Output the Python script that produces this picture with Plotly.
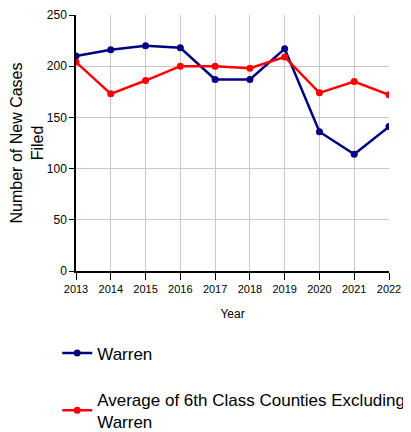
import plotly.graph_objects as go

years = [2013, 2014, 2015, 2016, 2017, 2018, 2019, 2020, 2021, 2022]
warren = [210, 216, 220, 218, 187, 187, 217, 136, 114, 141]
average = [204, 173, 186, 200, 200, 198, 209, 174, 185, 172]
y_ticks = [0, 50, 100, 150, 200, 250]

font_family = "Liberation Sans, Arial, sans-serif"

fig = go.Figure()
fig.add_trace(go.Scatter(
    x=years, y=warren, mode="lines+markers", name="Warren", legendgroup="a",
    line=dict(color="#000080", width=2.5), marker=dict(size=7, color="#000080"),
))
fig.add_trace(go.Scatter(
    x=years, y=average, mode="lines+markers", legendgroup="b",
    name="Average of 6th Class Counties Excluding<br>Warren",
    line=dict(color="#ff0000", width=2.5), marker=dict(size=7, color="#ff0000"),
))

# page body has an 8px default margin, so the figure is sized to 403x424
fig.update_layout(
    width=403, height=424,
    margin=dict(l=68, r=22, t=7, b=161, autoexpand=False),
    paper_bgcolor="white", plot_bgcolor="white",
    font=dict(family=font_family, color="black", size=13),
    showlegend=True,
    legend=dict(
        x=-0.06, xanchor="left", y=-0.252, yanchor="top",
        font=dict(size=17, family=font_family),
        traceorder="grouped",
        tracegroupgap=21, bgcolor="rgba(0,0,0,0)",
    ),
    xaxis=dict(
        range=[2013, 2022], tickmode="array", tickvals=years,
        ticktext=[str(y) for y in years],
        tickfont=dict(size=11, family=font_family),
        showgrid=True, gridcolor="#c8c8c8", gridwidth=1,
        showline=True, linecolor="black", linewidth=1.5,
        ticks="outside", ticklen=7, tickcolor="black",
        title=dict(text="Year", font=dict(size=12), standoff=16),
        zeroline=False, automargin=False,
    ),
    yaxis=dict(
        range=[0, 250], tickmode="array", tickvals=y_ticks,
        tickfont=dict(size=12, family=font_family),
        showgrid=True, gridcolor="#c8c8c8", gridwidth=1,
        showline=True, linecolor="black", linewidth=1.5,
        ticks="outside", ticklen=5, tickcolor="black",
        title=dict(text="Number of New Cases<br>Filed", font=dict(size=16), standoff=8),
        zeroline=False, automargin=False,
    ),
)

fig.write_html("out.html")
